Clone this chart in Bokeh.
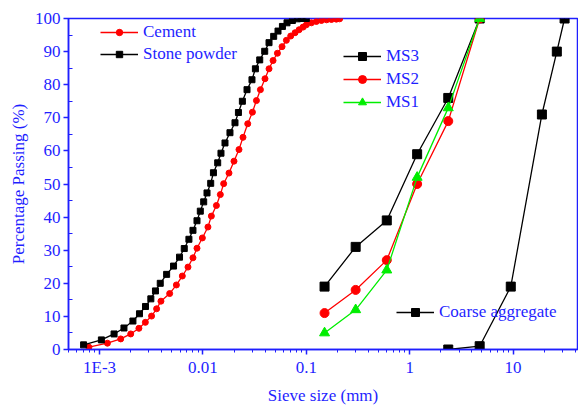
from bokeh.plotting import figure
from bokeh.models import Legend, LegendItem, FixedTicker
from bokeh.embed import file_html
from bokeh.resources import INLINE

# Stone powder (laser granulometry)
stone_x = [0.0007, 0.00104, 0.00138, 0.00172, 0.0021, 0.00243, 0.00278, 0.00313, 0.00347,
           0.00386, 0.00445, 0.00519, 0.00593, 0.00659, 0.00731, 0.0080, 0.00875, 0.00942,
           0.01016, 0.01094, 0.01188, 0.01262, 0.01388, 0.01493, 0.01633, 0.01824, 0.0204,
           0.02203, 0.02405, 0.02667, 0.02979, 0.03214, 0.0354, 0.03956, 0.04355, 0.0483,
           0.0532, 0.0587, 0.065, 0.0733, 0.082, 0.09, 0.1]
stone_y = [1.4, 2.9, 4.7, 6.5, 8.6, 10.8, 13.0, 15.3, 17.7,
           20.0, 22.7, 25.2, 27.9, 30.5, 33.3, 36.0, 38.9, 41.8,
           44.6, 47.3, 50.2, 53.4, 56.4, 59.3, 62.4, 65.5, 68.5,
           71.6, 75.0, 78.5, 81.5, 84.8, 87.5, 90.1, 92.7, 94.6,
           96.2, 97.6, 98.7, 99.4, 99.9, 100.0, 100.0]

# Cement
cement_x = [0.000787, 0.00119, 0.0016, 0.002, 0.0024, 0.00277, 0.00318, 0.00356, 0.00392,
            0.00476, 0.00553, 0.00631, 0.00716, 0.008, 0.00875, 0.00986, 0.01117, 0.01205,
            0.01349, 0.01472, 0.01585, 0.01785, 0.01995, 0.0223, 0.02438, 0.0271, 0.03008,
            0.0329, 0.03595, 0.0398, 0.04355, 0.04764, 0.0525, 0.0582, 0.0641, 0.0706,
            0.0778, 0.0851, 0.093, 0.1, 0.112, 0.125, 0.14, 0.157, 0.175, 0.195, 0.21]
cement_y = [0.7, 1.9, 3.2, 4.7, 6.4, 8.2, 10.1, 12.3, 14.6,
            16.9, 19.5, 22.2, 24.9, 27.7, 30.6, 33.7, 37.0, 40.3,
            43.5, 46.8, 50.1, 53.3, 56.9, 60.4, 64.1, 68.2, 71.7,
            75.2, 78.5, 81.8, 84.8, 87.3, 89.5, 91.5, 93.4, 94.7,
            95.7, 96.6, 97.4, 98.1, 98.7, 99.1, 99.4, 99.6, 99.7, 99.8, 99.9]

# Manufactured sand sieve analysis
ms_sieve = [0.15, 0.3, 0.6, 1.18, 2.36, 4.75]
ms3 = [19, 31, 39, 59, 76, 100]
ms2 = [11, 18, 27, 50, 69, 100]
ms1 = [5, 12, 24, 52, 73, 100]

# Coarse aggregate
ca_sieve = [2.36, 4.75, 9.5, 19, 26.5, 31.5]
ca_pass = [0, 1, 19, 71, 90, 100]

x_ticks = [0.001, 0.01, 0.1, 1, 10]
x_tick_labels = ["1E-3", "0.01", "0.1", "1", "10"]
y_ticks = [0, 10, 20, 30, 40, 50, 60, 70, 80, 90, 100]

BLUE = "#1f1fff"
FONT = "Liberation Serif"

p = figure(x_axis_type="log", x_range=(0.0005, 42), y_range=(0, 100),
           frame_width=509, frame_height=331,
           min_border_left=68, min_border_right=1, min_border_top=18, min_border_bottom=49,
           output_backend="svg", toolbar_location=None)
p.xgrid.visible = False
p.ygrid.visible = False
p.outline_line_color = BLUE
p.outline_line_width = 1.5
p.background_fill_color = "white"
p.border_fill_color = "white"

minor_x = [m * d for d in [1e-4, 1e-3, 1e-2, 0.1, 1, 10] for m in range(2, 10)]
p.xaxis.ticker = FixedTicker(ticks=x_ticks, minor_ticks=minor_x)
p.xaxis.major_label_overrides = {t: l for t, l in zip(x_ticks, x_tick_labels)}
p.yaxis.ticker = FixedTicker(ticks=y_ticks, minor_ticks=[t + 5 for t in y_ticks[:-1]])

for ax in (p.xaxis[0], p.yaxis[0]):
    ax.axis_line_color = BLUE
    ax.axis_line_width = 1.5
    ax.major_tick_line_color = BLUE
    ax.minor_tick_line_color = BLUE
    ax.major_tick_line_width = 1.5
    ax.minor_tick_line_width = 1
    ax.major_label_text_color = BLUE
    ax.major_label_text_font = FONT
    ax.major_label_text_font_size = "17px"
    ax.axis_label_text_color = BLUE
    ax.axis_label_text_font = FONT
    ax.axis_label_text_font_size = "17px"
    ax.axis_label_text_font_style = "normal"

p.xaxis.major_tick_out = 5
p.xaxis.major_tick_in = 0
p.xaxis.minor_tick_out = 3
p.xaxis.minor_tick_in = 0
p.xaxis.major_label_standoff = 3
p.yaxis.major_tick_out = 5
p.yaxis.major_tick_in = 0
p.yaxis.minor_tick_out = 0
p.yaxis.minor_tick_in = 4
p.yaxis.major_label_standoff = 3
p.xaxis.axis_label = "Sieve size (mm)"
p.yaxis.axis_label = "Percentage Passing (%)"
p.xaxis.axis_label_standoff = 6
p.yaxis.axis_label_standoff = 4

# Fine powders
cl = p.line(cement_x, cement_y, line_color="red", line_width=1.3)
cs = p.scatter(cement_x, cement_y, marker="circle", size=6, fill_color="red", line_color="red")
sl = p.line(stone_x, stone_y, line_color="black", line_width=1.3)
ss = p.scatter(stone_x, stone_y, marker="square", size=6, fill_color="black", line_color="black")

# Sands
m3l = p.line(ms_sieve, ms3, line_color="black", line_width=1.3)
m3s = p.scatter(ms_sieve, ms3, marker="square", size=9, fill_color="black", line_color="black")
m2l = p.line(ms_sieve, ms2, line_color="red", line_width=1.3)
m2s = p.scatter(ms_sieve, ms2, marker="circle", size=9, fill_color="red", line_color="red")
m1l = p.line(ms_sieve, ms1, line_color="#00ee00", line_width=1.3)
m1s = p.scatter(ms_sieve, ms1, marker="triangle", size=10, fill_color="#00ee00", line_color="#00ee00")

# Coarse aggregate
cal = p.line(ca_sieve, ca_pass, line_color="black", line_width=1.3)
cas = p.scatter(ca_sieve, ca_pass, marker="square", size=9, fill_color="black", line_color="black")


def make_legend(items, loc, gh, lh):
    lg = Legend(items=items, location=loc, padding=0, margin=0, spacing=0,
                glyph_width=38, glyph_height=gh, label_height=lh,
                label_standoff=5, border_line_alpha=0, background_fill_alpha=0,
                label_text_font=FONT, label_text_font_size="17px",
                label_text_color=BLUE)
    p.add_layout(lg, "center")
    return lg


make_legend([LegendItem(label="Cement", renderers=[cl, cs]),
             LegendItem(label="Stone powder", renderers=[sl, ss])], (32, 284), 16, 22)
make_legend([LegendItem(label="MS3", renderers=[m3l, m3s]),
             LegendItem(label="MS2", renderers=[m2l, m2s]),
             LegendItem(label="MS1", renderers=[m1l, m1s])], (275, 236), 20, 23)
make_legend([LegendItem(label="Coarse aggregate", renderers=[cal, cas])], (328, 26), 20, 22)

open("out.html", "w").write(file_html(p, INLINE))
